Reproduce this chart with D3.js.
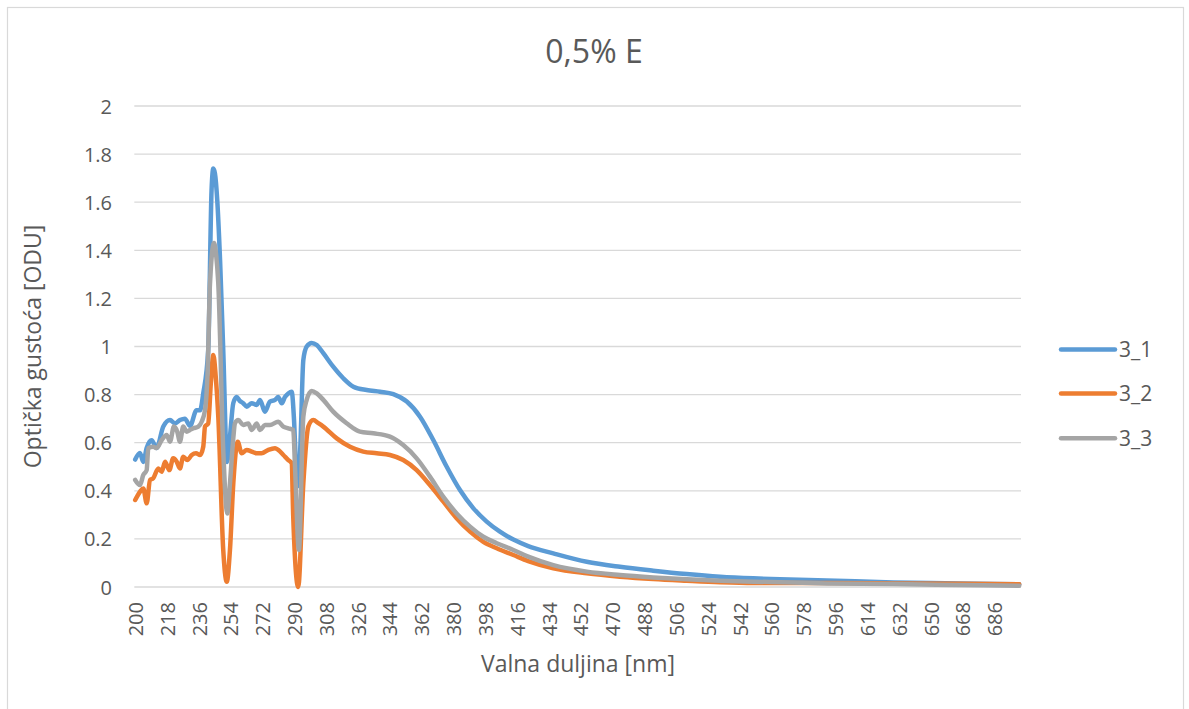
<!DOCTYPE html>
<html>
<head>
<meta charset="utf-8">
<script src="https://cdn.jsdelivr.net/npm/d3@7"></script>
<style>
  html, body { margin: 0; padding: 0; background: #ffffff; }
  svg { display: block; font-family: "Open Sans", "DejaVu Sans", sans-serif; }
</style>
</head>
<body>
<svg id="chart" width="1189" height="709"></svg>
<script>
// ---- data ----
const chartTitle = "0,5% E";
const xTitle = "Valna duljina [nm]";
const yTitle = "Optička gustoća [ODU]";
const seriesNames = ["3_1", "3_2", "3_3"];
const seriesColors = ["#5B9BD5", "#ED7D31", "#A5A5A5"];
const xTickLabels = [200, 218, 236, 254, 272, 290, 308, 326, 344, 362, 380, 398, 416, 434, 452, 470, 488, 506, 524, 542, 560, 578, 596, 614, 632, 650, 668, 686];
const yTicks = [0, 0.2, 0.4, 0.6, 0.8, 1, 1.2, 1.4, 1.6, 1.8, 2];
const yTickLabels = ["0", "0.2", "0.4", "0.6", "0.8", "1", "1.2", "1.4", "1.6", "1.8", "2"];

const wl_3_1 = [200, 202.7, 204.6, 206.5, 209.3, 212.1, 215.9, 219.7, 222.5, 225.3, 228.1, 231, 234.7, 236.7, 238.5, 241.3, 243.2, 244.2, 245.1, 246.4, 248, 249.8, 252, 253.6, 255.5, 257.4, 259, 261.1, 263.1, 265.9, 268.7, 270.6, 273.4, 276.2, 279.1, 280.9, 282.9, 284.7, 286.6, 288.5, 289.8, 291, 292.3, 293.5, 295.1, 297, 299.8, 302.7, 306.4, 312, 317.7, 323.4, 330.9, 338.5, 346, 353.6, 361.1, 368.6, 376.2, 383.7, 391.2, 398.8, 406.3, 413.9, 422.3, 436.5, 455.4, 474.2, 493, 511.9, 530.8, 549.6, 564.7, 591.1, 628.8, 666.5, 700];
const odu_3_1 = [0.53, 0.557, 0.52, 0.578, 0.61, 0.578, 0.667, 0.694, 0.68, 0.694, 0.70, 0.67, 0.735, 0.735, 0.805, 0.985, 1.65, 1.74, 1.72, 1.61, 1.36, 0.985, 0.52, 0.625, 0.765, 0.79, 0.775, 0.764, 0.75, 0.764, 0.757, 0.778, 0.729, 0.771, 0.778, 0.79, 0.764, 0.79, 0.805, 0.812, 0.70, 0.50, 0.42, 0.60, 0.944, 1.0, 1.015, 1.006, 0.972, 0.916, 0.868, 0.833, 0.819, 0.812, 0.802, 0.771, 0.708, 0.611, 0.5, 0.403, 0.328, 0.272, 0.23, 0.197, 0.17, 0.14, 0.105, 0.084, 0.068, 0.054, 0.043, 0.036, 0.032, 0.027, 0.019, 0.015, 0.011];

const wl_3_2 = [200, 202.7, 204.6, 206.5, 208.4, 210.2, 213.1, 215, 216.9, 219.3, 221.5, 223.5, 225.3, 227.2, 229.5, 232, 234.4, 236.7, 238.5, 239.5, 241.3, 242.8, 244.2, 245.5, 247, 249.8, 251.8, 253.6, 255.5, 258, 260.2, 263.1, 265.9, 268.7, 271.5, 275.3, 279.1, 280.9, 283.8, 286.6, 288.5, 289.4, 292.2, 295.1, 297.9, 300.7, 303.6, 306.4, 314, 321.5, 329, 336.6, 344.1, 351.6, 359.2, 366.7, 374.3, 381.8, 389.4, 396.9, 404.5, 413.9, 422.3, 436.5, 455.4, 474.2, 493, 511.9, 530.8, 549.6, 591.1, 628.8, 666.5, 700];
const odu_3_2 = [0.362, 0.396, 0.41, 0.348, 0.445, 0.452, 0.493, 0.479, 0.521, 0.486, 0.535, 0.521, 0.493, 0.542, 0.528, 0.549, 0.556, 0.549, 0.583, 0.667, 0.68, 0.85, 0.965, 0.88, 0.708, 0.154, 0.022, 0.154, 0.432, 0.604, 0.556, 0.57, 0.563, 0.556, 0.556, 0.57, 0.577, 0.57, 0.549, 0.528, 0.515, 0.29, 0.0, 0.431, 0.667, 0.694, 0.681, 0.667, 0.618, 0.583, 0.563, 0.556, 0.549, 0.528, 0.486, 0.424, 0.355, 0.286, 0.23, 0.188, 0.161, 0.133, 0.108, 0.078, 0.057, 0.043, 0.033, 0.026, 0.02, 0.017, 0.017, 0.015, 0.013, 0.011];

const wl_3_3 = [200, 202.7, 204.6, 206.5, 207.4, 210.2, 212.2, 215, 217.8, 219.7, 221.9, 223.8, 225.3, 227.2, 229.1, 231, 232.9, 235.7, 237.6, 239.5, 241, 242.3, 244.6, 245.8, 247, 249.8, 252.1, 253.6, 255.5, 256.4, 258.3, 261.1, 264, 265.9, 268.7, 270.6, 273.4, 276.2, 280.9, 283.8, 286.6, 289.4, 290.4, 292.6, 295.1, 297, 299.8, 302.7, 306.4, 312, 319.6, 327.1, 334.7, 344.1, 351.6, 359.2, 366.7, 374.3, 381.8, 389.4, 396.9, 404.5, 413.9, 422.3, 436.5, 455.4, 474.2, 493, 511.9, 530.8, 549.6, 564.7, 591.1, 628.8, 666.5, 700];
const odu_3_3 = [0.445, 0.424, 0.466, 0.486, 0.577, 0.583, 0.578, 0.611, 0.632, 0.604, 0.667, 0.646, 0.604, 0.667, 0.646, 0.653, 0.66, 0.667, 0.687, 0.736, 0.9, 1.26, 1.43, 1.38, 1.263, 0.57, 0.306, 0.431, 0.62, 0.68, 0.694, 0.674, 0.68, 0.653, 0.68, 0.653, 0.674, 0.674, 0.687, 0.667, 0.66, 0.653, 0.5, 0.154, 0.708, 0.778, 0.815, 0.805, 0.778, 0.729, 0.681, 0.646, 0.639, 0.625, 0.59, 0.535, 0.459, 0.375, 0.306, 0.251, 0.209, 0.182, 0.154, 0.126, 0.091, 0.064, 0.05, 0.04, 0.032, 0.026, 0.022, 0.02, 0.015, 0.012, 0.008, 0.005];

const seriesWl = [wl_3_1, wl_3_2, wl_3_3];
const seriesOdu = [odu_3_1, odu_3_2, odu_3_3];

// ---- layout ----
const W = 1189, H = 709;
const plot = { left: 134.3, right: 1021, top: 106, bottom: 587 };
const textColor = "#595959";
const gridColor = "#D9D9D9";

const svg = d3.select("#chart");
svg.append("rect").attr("x", 0).attr("y", 0).attr("width", W).attr("height", H).attr("fill", "#fff");
svg.append("rect").attr("x", 7.5).attr("y", 7.5).attr("width", 1176).attr("height", 740)
  .attr("fill", "none").attr("stroke", gridColor).attr("stroke-width", 1.2);

// category axis: 501 categories (200..700 nm), points centred in each slot
const x = d3.scaleLinear().domain([199.5, 700.5]).range([plot.left, 1020.1]);
const y = d3.scaleLinear().domain([0, 2]).range([plot.bottom, plot.top]);

// gridlines
svg.append("g").selectAll("line").data(yTicks).join("line")
  .attr("x1", plot.left).attr("x2", plot.right)
  .attr("y1", d => y(d)).attr("y2", d => y(d))
  .attr("stroke", gridColor).attr("stroke-width", 1.3);

// y axis labels
const yAxis = d3.axisLeft(y).tickValues(yTicks).tickSize(0).tickPadding(0)
  .tickFormat((d, i) => yTickLabels[i]);
const gy = svg.append("g").attr("transform", `translate(112,0)`).call(yAxis);
gy.select(".domain").remove();
gy.selectAll("text").attr("fill", textColor).style("font-size", "20px")
  .style("font-family", '"Open Sans", sans-serif').attr("dy", "0.35em").attr("x", 0);

// x axis labels (rotated)
const xAxis = d3.axisBottom(x).tickValues(xTickLabels).tickSize(0).tickFormat(d => String(d));
const gx = svg.append("g").attr("transform", `translate(0,${plot.bottom})`).call(xAxis);
gx.select(".domain").remove();
gx.selectAll("text")
  .attr("fill", textColor).style("font-size", "20px").style("font-family", '"Open Sans", sans-serif')
  .attr("transform", "rotate(-90)")
  .attr("text-anchor", "end")
  .attr("x", -15).attr("y", 0).attr("dy", "0.36em");

// series lines
const line = d3.line().x(d => x(d[0])).y(d => y(d[1])).curve(d3.curveMonotoneX);
seriesNames.forEach((name, si) => {
  const pts = seriesWl[si].map((w, i) => [w, seriesOdu[si][i]]);
  svg.append("path").datum(pts).attr("d", line)
    .attr("fill", "none").attr("stroke", seriesColors[si])
    .attr("stroke-width", 4.5).attr("stroke-linejoin", "round").attr("stroke-linecap", "round");
});

// title
svg.append("text").attr("x", 594).attr("y", 63).attr("text-anchor", "middle")
  .attr("fill", textColor).style("font-size", "32px").text(chartTitle);

// axis titles
svg.append("text").attr("x", 578).attr("y", 672).attr("text-anchor", "middle")
  .attr("fill", textColor).style("font-size", "23px").text(xTitle);
svg.append("text").attr("transform", "translate(41,346.5) rotate(-90)").attr("text-anchor", "middle")
  .attr("fill", textColor).style("font-size", "23px").text(yTitle);

// legend
const legendY = [349.5, 393.5, 438.3];
const lg = svg.append("g");
seriesNames.forEach((name, i) => {
  lg.append("line").attr("x1", 1061).attr("x2", 1115).attr("y1", legendY[i]).attr("y2", legendY[i])
    .attr("stroke", seriesColors[i]).attr("stroke-width", 4.5).attr("stroke-linecap", "round");
  lg.append("text").attr("x", 1119).attr("y", legendY[i]).attr("dy", "0.35em")
    .attr("fill", textColor).style("font-size", "21px").text(name);
});
</script>
</body>
</html>
